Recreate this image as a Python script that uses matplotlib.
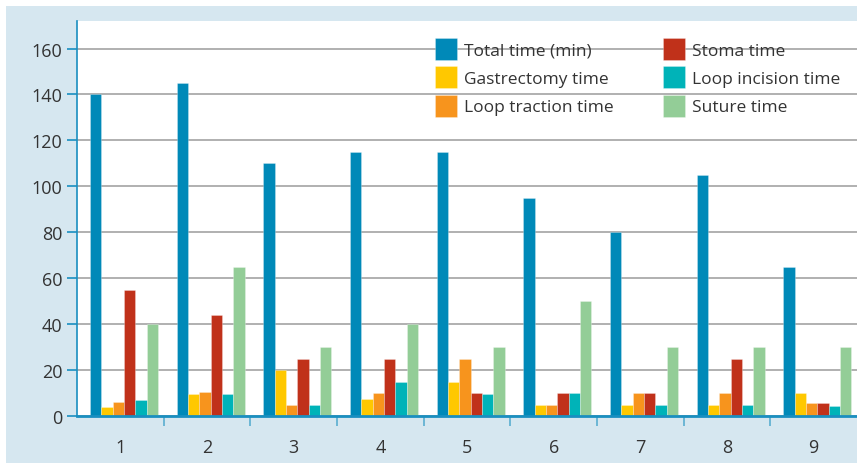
import matplotlib
matplotlib.use("Agg")
import matplotlib.pyplot as plt
from matplotlib.patches import Rectangle
import numpy as np

plt.rcParams['font.family'] = ['Open Sans', 'DejaVu Sans']

categories = ['1', '2', '3', '4', '5', '6', '7', '8', '9']
series_names = ['Total time (min)', 'Gastrectomy time', 'Loop traction time',
                'Stoma time', 'Loop incision time', 'Suture time']
total_time = [140, 145, 110, 115, 115, 95, 80, 105, 65]
gastrectomy_time = [4, 9.5, 20, 7.5, 15, 5, 5, 5, 10]
loop_traction_time = [6, 10.5, 5, 10, 25, 5, 10, 10, 5.5]
stoma_time = [55, 44, 25, 25, 10, 10, 10, 25, 5.5]
loop_incision_time = [7, 9.5, 5, 15, 9.5, 10, 5, 5, 4.5]
suture_time = [40, 65, 30, 40, 30, 50, 30, 30, 30]
y_ticks = [0, 20, 40, 60, 80, 100, 120, 140, 160]

series = [total_time, gastrectomy_time, loop_traction_time,
          stoma_time, loop_incision_time, suture_time]
colors = ['#0089b8', '#ffc800', '#f7941d', '#c0311a', '#00b3b8', '#93cd97']

W, H = 857, 464
fig = plt.figure(figsize=(W / 100, H / 100), dpi=100, facecolor='white')
fig.patches.append(Rectangle((6 / W, 0), 1, 1 - 7 / H, transform=fig.transFigure,
                             facecolor='#d6e7f0', edgecolor='none', zorder=-10))

ax = fig.add_axes([77 / W, (H - 417) / H, (857 - 77) / W, (417 - 22) / H])
ax.set_facecolor('white')

x = np.arange(len(categories))
bw = 0.131
for k, (vals, c) in enumerate(zip(series, colors)):
    ax.bar(x - 0.5 + 0.15 + k * bw, vals, width=bw, align='edge', color=c,
           edgecolor=(1, 1, 1, 0.3), linewidth=0.6, zorder=3, label=series_names[k])

ax.set_xlim(-0.5, len(categories) - 0.5)
ax.set_ylim(0, 172)
ax.set_yticks(y_ticks)
ax.set_yticklabels([str(v) for v in y_ticks])
ax.set_xticks(x)
ax.set_xticklabels(categories)
ax.set_xticks(x[:-1] + 0.5, minor=True)

ax.yaxis.grid(True, color='#aaaaaa', linewidth=1.3, zorder=0)
ax.set_axisbelow(True)

for s in ['top', 'right']:
    ax.spines[s].set_visible(False)
ax.spines['left'].set_color('#1a8fc0')
ax.spines['left'].set_linewidth(1.2)
ax.spines['bottom'].set_color('#1a8fc0')
ax.spines['bottom'].set_linewidth(2)
ax.spines['bottom'].set_zorder(5)
ax.spines['left'].set_zorder(5)

ax.tick_params(axis='y', direction='out', length=7, width=1.2, color='#1a8fc0',
               labelsize=13, labelcolor='#333333', pad=3.5)
ax.tick_params(axis='x', which='major', length=0, labelsize=13,
               labelcolor='#333333', pad=16)
ax.tick_params(axis='x', which='minor', direction='out', length=7, width=1.2,
               color='#5aaed0')

handles, labels = ax.get_legend_handles_labels()
leg_kw = dict(frameon=False, fontsize=12.5, handlelength=1.27, handleheight=1.57,
              handletextpad=0.4, labelspacing=0.37, borderpad=0, borderaxespad=0,
              labelcolor='#333333')
leg1 = fig.legend(handles[:3], labels[:3], loc='upper left',
                  bbox_to_anchor=(435 / W, (H - 39) / H), **leg_kw)
leg2 = fig.legend(handles[3:], labels[3:], loc='upper left',
                  bbox_to_anchor=(663 / W, (H - 39) / H), **leg_kw)
for lg in (leg1, leg2):
    for p in lg.get_patches():
        p.set_edgecolor((1, 1, 1, 0.3))

fig.savefig('out.png', dpi=100, facecolor='white')
